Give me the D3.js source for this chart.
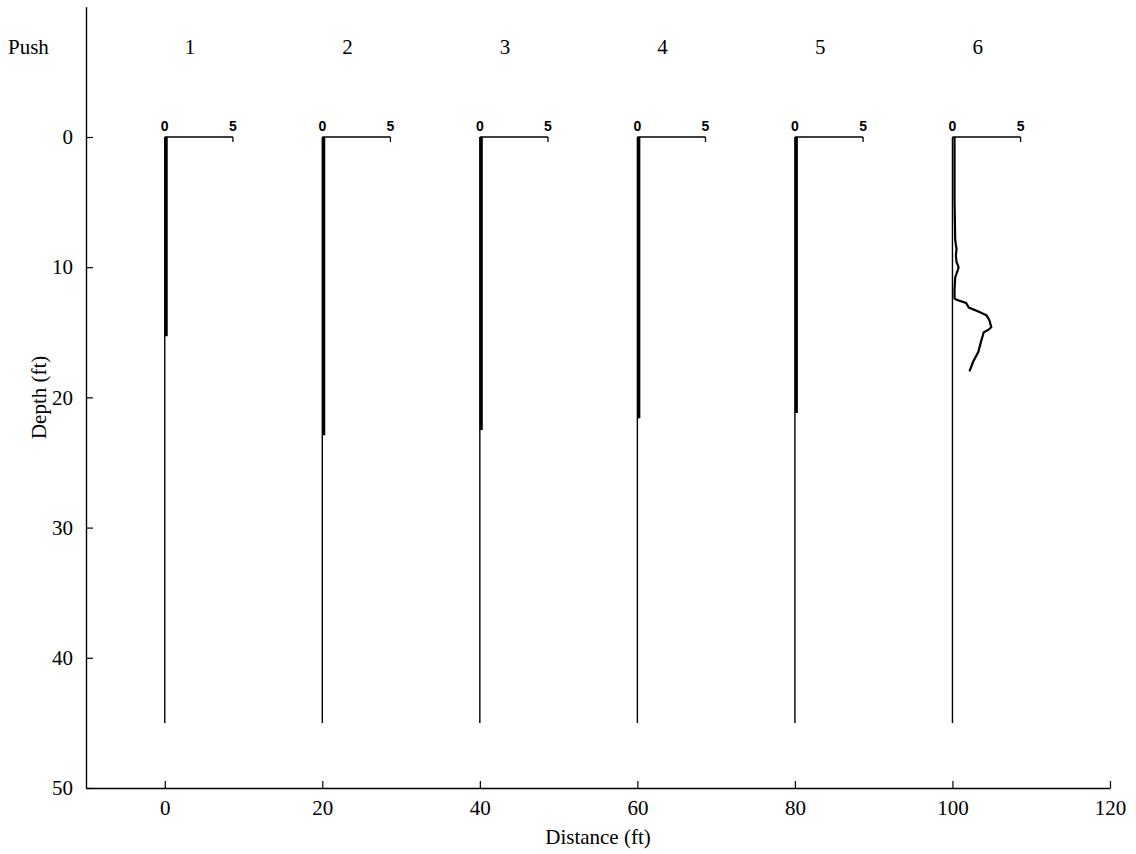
<!DOCTYPE html>
<html>
<head>
<meta charset="utf-8">
<script src="https://cdn.jsdelivr.net/npm/d3@7"></script>
<style>
  html, body { margin: 0; padding: 0; background: #fff; }
  svg { display: block; }
</style>
</head>
<body>
<svg id="chart" width="1136" height="854"></svg>
<script>
// ---- data ----
const pushLabels = ["1", "2", "3", "4", "5", "6"];
const pushDistances = [0, 20, 40, 60, 80, 100];
const xTicks = [0, 20, 40, 60, 80, 100, 120];
const yTicks = [0, 10, 20, 30, 40, 50];
const miniTicks = [0, 5];
const holeBottom = 45;
// profiles: [depth (ft), value]
const profile1 = [[0, 0.1], [15.3, 0.1]];
const profile2 = [[0, 0.1], [22.9, 0.1]];
const profile3 = [[0, 0.1], [22.5, 0.1]];
const profile4 = [[0, 0.1], [21.6, 0.1]];
const profile5 = [[0, 0.1], [21.2, 0.1]];
const profile6 = [
  [0, 0.15], [2, 0.15], [4.8, 0.15], [7.9, 0.2], [8.6, 0.3], [9.1, 0.25], [9.6, 0.3],
  [10.0, 0.45], [10.2, 0.4], [10.5, 0.3], [10.8, 0.2], [11.75, 0.15], [12.4, 0.15],
  [12.5, 0.3], [12.75, 1.0], [13.1, 1.2], [13.4, 1.9], [13.7, 2.5], [14.05, 2.7],
  [14.6, 2.85], [14.8, 2.65], [15.0, 2.3], [15.7, 2.1], [16.5, 1.9], [17.3, 1.5], [18.0, 1.25]
];
const profiles = [profile1, profile2, profile3, profile4, profile5, profile6];

// ---- scales ----
const svg = d3.select("#chart");
const x = d3.scaleLinear().domain([-10, 120]).range([86, 1110]);
const y = d3.scaleLinear().domain([-10, 50]).range([6.8, 788]);
// value scale: 5 units spans ~8.65 ft of distance
const v = d3.scaleLinear().domain([0, 5]).range([0, x(8.65) - x(0)]);

const serif = "'Liberation Serif', 'Times New Roman', serif";
const sans = "'Liberation Sans', Arial, sans-serif";

// ---- axes ----
const xAxis = d3.axisBottom(x).tickValues(xTicks).tickSizeInner(-7).tickSizeOuter(0).tickPadding(12);
const gx = svg.append("g").attr("transform", `translate(0,${y(50)})`).call(xAxis);
const yAxis = d3.axisLeft(y).tickValues(yTicks).tickSizeInner(-7).tickSizeOuter(0).tickPadding(15);
const gy = svg.append("g").attr("transform", `translate(${x(-10)},0)`).call(yAxis);
[gx, gy].forEach(g => {
  g.select(".domain").attr("stroke", "#000").attr("stroke-width", 1.4);
  g.selectAll(".tick line").attr("stroke", "#000").attr("stroke-width", 1.2);
  g.selectAll(".tick text").attr("font-family", serif).attr("font-size", 21).attr("fill", "#000");
});
gy.selectAll(".tick text").attr("dx", "0.1em");

svg.append("text").attr("x", x(55)).attr("y", 844)
  .attr("text-anchor", "middle").attr("font-family", serif).attr("font-size", 21)
  .text("Distance (ft)");
svg.append("text").attr("transform", `translate(46,${y(20)}) rotate(-90)`)
  .attr("text-anchor", "middle").attr("font-family", serif).attr("font-size", 21)
  .text("Depth (ft)");

// ---- push labels ----
svg.append("text").attr("x", 8).attr("y", 54)
  .attr("font-family", serif).attr("font-size", 21).text("Push");
svg.selectAll("text.pushnum").data(pushLabels).join("text")
  .attr("class", "pushnum")
  .attr("x", (d, i) => x(pushDistances[i] + 3.2))
  .attr("y", 54).attr("text-anchor", "middle")
  .attr("font-family", serif).attr("font-size", 21).text(d => d);

// ---- profiles ----
const line = d3.line();
pushDistances.forEach((dist, i) => {
  const g = svg.append("g");
  const x0 = x(dist);
  // borehole baseline
  g.append("line").attr("x1", x0).attr("x2", x0).attr("y1", y(0)).attr("y2", y(holeBottom))
    .attr("stroke", "#000").attr("stroke-width", 1.4);
  // mini axis
  g.append("line").attr("x1", x0).attr("x2", x0 + v(5)).attr("y1", y(0)).attr("y2", y(0))
    .attr("stroke", "#000").attr("stroke-width", 1.3);
  g.append("line").attr("x1", x0 + v(5)).attr("x2", x0 + v(5)).attr("y1", y(0)).attr("y2", y(0) + 5)
    .attr("stroke", "#000").attr("stroke-width", 1.3);
  g.selectAll("text").data(miniTicks).join("text")
    .attr("x", d => x0 + v(d)).attr("y", y(0) - 6)
    .attr("text-anchor", "middle").attr("font-family", sans).attr("font-weight", "bold")
    .attr("font-size", 14).text(d => d);
  // profile line
  g.append("path")
    .attr("d", line(profiles[i].map(p => [x0 + v(p[1]), y(p[0])])))
    .attr("fill", "none").attr("stroke", "#000")
    .attr("stroke-width", i === 5 ? 2.2 : 3.2);
});
</script>
</body>
</html>
